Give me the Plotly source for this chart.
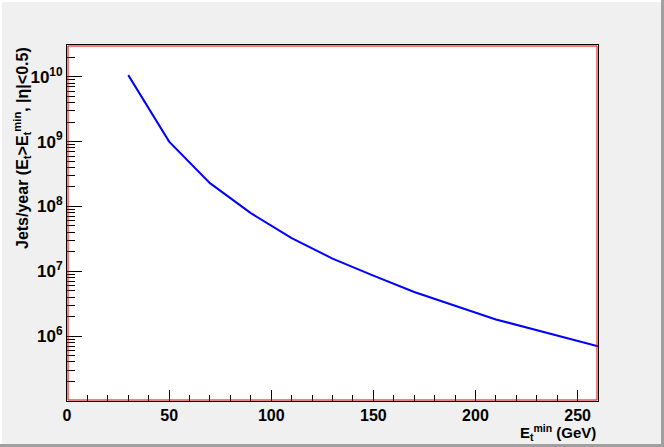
import plotly.graph_objects as go

# Data
et_min = [30, 50, 70, 90, 110, 130, 150, 170, 190, 210, 260]
jets_per_year = [1.06e10, 1.0e9, 2.29e8, 7.9e7, 3.26e7, 1.57e7, 8.6e6, 4.8e6, 2.95e6, 1.81e6, 7.0e5]

y_major = [1e6, 1e7, 1e8, 1e9, 1e10]
y_major_text = ["10<sup>6</sup>", "10<sup>7</sup>", "10<sup>8</sup>", "10<sup>9</sup>", "10<sup>10</sup>"]
y_minor = [m * 10**e for e in range(5, 11) for m in range(2, 10)]
x_major = [0, 50, 100, 150, 200, 250]
x_minor = list(range(0, 261, 10))

W, H = 664, 447
L, R, T, B = 67, 66, 45, 46
pw = W - L - R
ph = H - T - B

fig = go.Figure()
fig.add_trace(go.Scatter(x=et_min, y=jets_per_year, mode="lines",
                         line=dict(color="#0000ff", width=2), showlegend=False))

fam = "Liberation Sans, Arial, sans-serif"
font = dict(family=fam, size=16, color="black")

fig.update_layout(
    width=W, height=H,
    margin=dict(l=L, r=R, t=T, b=B),
    paper_bgcolor="#f0f0f0",
    plot_bgcolor="white",
    font=font,
    xaxis=dict(range=[0, 260], tickvals=x_major, ticktext=[f"<b>{v}</b>" for v in x_major],
               tickfont=dict(family=fam, size=16, color="black"),
               ticks="inside", ticklen=11, tickcolor="black", tickwidth=1,
               showgrid=False, zeroline=False, showline=True, linecolor="black", linewidth=1,
               mirror=True, automargin=False,
               minor=dict(tickvals=x_minor, ticks="inside", ticklen=6, tickcolor="black", showgrid=False)),
    yaxis=dict(type="log", range=[5, 10.49], tickvals=y_major,
               ticktext=[f"<b>{t}</b>" for t in y_major_text],
               tickfont=dict(family=fam, size=17, color="black"),
               ticks="inside", ticklen=15, tickcolor="black", tickwidth=1,
               showgrid=False, zeroline=False, showline=True, linecolor="black", linewidth=1,
               mirror=True, automargin=False,
               minor=dict(tickvals=y_minor, ticks="inside", ticklen=8, tickcolor="black", showgrid=False)),
)

# red inner frame line
dx = 1.0 / pw
dy = 1.0 / ph
fig.add_shape(type="rect", xref="paper", yref="paper", x0=dx, x1=1 - dx, y0=dy, y1=1 - dy,
              line=dict(color="#e00000", width=1), layer="above")

# canvas bevel
def px_x(p):
    return (p - L) / pw

def px_y(p):
    return (H - B - p) / ph

fig.add_shape(type="rect", xref="paper", yref="paper", x0=px_x(0), x1=px_x(W), y0=px_y(H), y1=px_y(H - 3),
              line=dict(width=0), fillcolor="#a0a0a0", layer="below")
fig.add_shape(type="rect", xref="paper", yref="paper", x0=px_x(W - 3), x1=px_x(W), y0=px_y(H), y1=px_y(0),
              line=dict(width=0), fillcolor="#a0a0a0", layer="below")
fig.add_shape(type="rect", xref="paper", yref="paper", x0=px_x(0), x1=px_x(W - 3), y0=px_y(2), y1=px_y(0),
              line=dict(width=0), fillcolor="#ffffff", layer="below")
fig.add_shape(type="rect", xref="paper", yref="paper", x0=px_x(0), x1=px_x(2), y0=px_y(H - 3), y1=px_y(0),
              line=dict(width=0), fillcolor="#ffffff", layer="below")

# axis titles
fig.add_annotation(xref="paper", yref="paper", x=px_x(22), y=1.0, xanchor="center", yanchor="top",
                   textangle=-90, showarrow=False, font=dict(family=fam, size=16, color="black"),
                   text="<b>Jets/year (E<sub>t</sub>>E<sub>t</sub><sup>min</sup>, |η|<0.5)</b>")
fig.add_annotation(xref="paper", yref="paper", x=1.0, y=px_y(432), xanchor="right", yanchor="middle",
                   showarrow=False, font=dict(family=fam, size=15, color="black"),
                   text="<b>E<sub>t</sub><sup>min</sup> (GeV)</b>")

fig.write_html("out.html", config={"displayModeBar": False},
               post_script="document.body.style.margin='0';document.body.style.overflow='hidden';")
